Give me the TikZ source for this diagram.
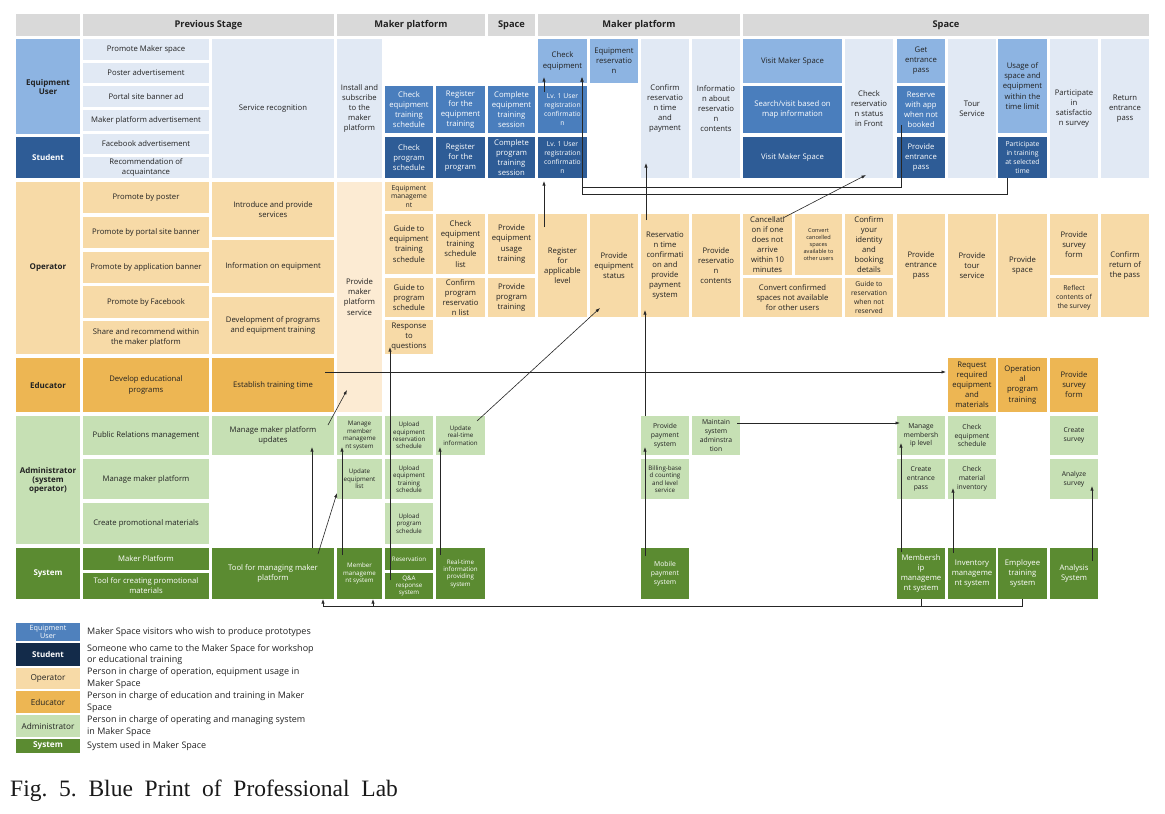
\documentclass[tikz,border=0pt]{standalone}
\usepackage{fontspec}
\setmainfont{Open Sans}
\newfontfamily\capfont{Liberation Serif}
\usetikzlibrary{arrows.meta}
\definecolor{cHD}{HTML}{D9D9D9}
\definecolor{cVLB}{HTML}{E1E9F4}
\definecolor{cLBc}{HTML}{8DB4E2}
\definecolor{cMBc}{HTML}{4A7EBD}
\definecolor{cDBc}{HTML}{2E5C96}
\definecolor{cOPc}{HTML}{F7DAA7}
\definecolor{cOPP}{HTML}{FCEBD3}
\definecolor{cEDc}{HTML}{EDB653}
\definecolor{cADc}{HTML}{C6E0B4}
\definecolor{cSYc}{HTML}{5B8B31}
\definecolor{cLgEU}{HTML}{4F81BD}
\definecolor{cLgSt}{HTML}{132B4A}
\definecolor{cTxt}{HTML}{222222}
\tikzset{
  cellbase/.style={inner sep=0pt, outer sep=0pt, align=center, text=cTxt,
    font=\fontsize{7.7}{10.1}\selectfont},
  csm/.style={font=\fontsize{6.8}{8.8}\selectfont},
  ctn/.style={font=\fontsize{6.2}{7.4}\selectfont},
  cxs/.style={font=\fontsize{5.6}{7}\selectfont},
  chd/.style={fill=cHD, font=\bfseries\fontsize{9.3}{11}\selectfont},
  crole/.style={font=\bfseries\fontsize{8}{9}\selectfont},
  cvlb/.style={fill=cVLB},
  clb/.style={fill=cLBc},
  cmb/.style={fill=cMBc, text=white},
  cdb/.style={fill=cDBc, text=white},
  cop/.style={fill=cOPc},
  copp/.style={fill=cOPP},
  ced/.style={fill=cEDc},
  cad/.style={fill=cADc},
  csy/.style={fill=cSYc, text=white},
  conn/.style={-{Latex[length=4.5pt,width=3.2pt]}, line width=0.6pt, draw=black!85},
  plainline/.style={line width=0.6pt, draw=black!85},
  lgtext/.style={anchor=west, inner sep=0pt, align=left, text=cTxt, font=\fontsize{9}{11.6}\selectfont}
}
\newcommand{\mycell}[7]{\node[cellbase,#6,minimum width={(#4-#2)*1pt},minimum height={(#5-#3)*1pt}] (#1) at ({(#2+#4)/2},{(#3+#5)/2}) {#7};}
\begin{document}
\begin{tikzpicture}[x=1pt,y=-1pt]
\useasboundingbox (0,0) rectangle (1165,814);
\fill[white] (0,0) rectangle (1165,814);
% header
\mycell{h0}{16}{14}{80}{36}{chd}{}
\mycell{h1}{83}{14}{334}{36}{chd}{Previous Stage}
\mycell{h2}{337}{14}{485}{36}{chd}{Maker platform}
\mycell{h3}{488}{14}{535}{36}{chd}{Space}
\mycell{h4}{538}{14}{740}{36}{chd}{Maker platform}
\mycell{h5}{743}{14}{1149}{36}{chd}{Space}
% role labels
\mycell{rEU}{16}{39}{80}{134}{clb,crole}{Equipment\\User}
\mycell{rSt}{16}{137}{80}{178}{cdb,crole}{Student}
\mycell{rOp}{16}{182}{80}{354}{cop,crole}{Operator}
\mycell{rEd}{16}{358}{80}{412}{ced,crole}{Educator}
\mycell{rAd}{16}{416}{80}{544}{cad,crole}{Administrator\\(system\\operator)}
\mycell{rSy}{16}{548}{80}{599}{csy,crole}{System}
% equipment user / student
\mycell{pm1}{83}{39}{209}{60}{cvlb}{Promote Maker space}
\mycell{pm2}{83}{63}{209}{83}{cvlb}{Poster advertisement}
\mycell{pm3}{83}{86}{209}{107}{cvlb}{Portal site banner ad}
\mycell{pm4}{83}{110}{209}{131}{cvlb}{Maker platform advertisement}
\mycell{pm5}{83}{134}{209}{154}{cvlb}{Facebook advertisement}
\mycell{pm6}{83}{157}{209}{178}{cvlb}{Recommendation of\\acquaintance}
\mycell{srec}{212}{39}{334}{178}{cvlb}{Service recognition}
\mycell{inst}{337}{39}{382}{178}{cvlb}{Install and\\subscribe\\to the\\maker\\platform}
\mycell{ceT}{385}{86}{433}{133}{cmb}{Check\\equipment\\training\\schedule}
\mycell{cpS}{385}{137}{433}{178}{cdb}{Check\\program\\schedule}
\mycell{reT}{436}{86}{485}{133}{cmb}{Register\\for the\\equipment\\training}
\mycell{rpP}{436}{137}{485}{178}{cdb}{Register\\for the\\program}
\mycell{coT}{488}{86}{535}{133}{cmb}{Complete\\equipment\\training\\session}
\mycell{coP}{488}{137}{535}{178}{cdb}{Complete\\program\\training\\session}
\mycell{chkEq}{538}{39}{587}{83}{clb}{Check\\equipment}
\mycell{lv1e}{538}{86}{587}{133}{cmb,csm}{Lv. 1 User\\registration\\confirmatio\\n}
\mycell{lv1s}{538}{137}{587}{178}{cdb,csm}{Lv. 1 User\\registration\\confirmatio\\n}
\mycell{eqRes}{590}{39}{638}{83}{clb}{Equipment\\reservatio\\n}
\mycell{confRes}{641}{39}{689}{178}{cvlb}{Confirm\\reservatio\\n time\\and\\payment}
\mycell{infRes}{692}{39}{740}{178}{cvlb}{Informatio\\n about\\reservatio\\n\\contents}
\mycell{visit1}{743}{39}{842}{83}{clb}{Visit Maker Space}
\mycell{search}{743}{86}{842}{133}{cmb}{Search/visit based on\\map information}
\mycell{visit2}{743}{137}{842}{178}{cdb}{Visit Maker Space}
\mycell{chkRes}{845}{39}{893}{178}{cvlb}{Check\\reservatio\\n status\\in Front}
\mycell{getP}{897}{39}{945}{83}{clb}{Get\\entrance\\pass}
\mycell{resApp}{897}{86}{945}{133}{cmb}{Reserve\\with app\\when not\\booked}
\mycell{provP}{897}{137}{945}{178}{cdb}{Provide\\entrance\\pass}
\mycell{tour}{948}{39}{996}{178}{cvlb}{Tour\\Service}
\mycell{usage}{998}{39}{1047}{133}{clb}{Usage of\\space and\\equipment\\within the\\time limit}
\mycell{ptrain}{998}{137}{1047}{178}{cdb,csm}{Participate\\in training\\at selected\\time}
\mycell{sat}{1050}{39}{1098}{178}{cvlb}{Participate\\in\\satisfactio\\n survey}
\mycell{ret}{1101}{39}{1149}{178}{cvlb}{Return\\entrance\\pass}
% operator
\mycell{op1}{83}{182}{209}{213}{cop}{Promote by poster}
\mycell{op2}{83}{217}{209}{248}{cop}{Promote by portal site banner}
\mycell{op3}{83}{252}{209}{283}{cop}{Promote by application banner}
\mycell{op4}{83}{286}{209}{318}{cop}{Promote by Facebook}
\mycell{op5}{83}{321}{209}{354}{cop}{Share and recommend within\\the maker platform}
\mycell{intro}{212}{182}{334}{237}{cop}{Introduce and provide\\services}
\mycell{infoEq}{212}{240}{334}{293}{cop}{Information on equipment}
\mycell{devP}{212}{297}{334}{354}{cop}{Development of programs\\and equipment training}
\mycell{provMP}{337}{182}{382}{412}{copp}{Provide\\maker\\platform\\service}
\mycell{eqMg}{385}{182}{433}{211}{cop,csm}{Equipment\\manageme\\nt}
\mycell{gEqT}{385}{214}{433}{274}{cop}{Guide to\\equipment\\training\\schedule}
\mycell{gPS}{385}{278}{433}{317}{cop}{Guide to\\program\\schedule}
\mycell{resp}{385}{320}{433}{354}{cop}{Response\\to\\questions}
\mycell{ceTl}{436}{214}{485}{274}{cop}{Check\\equipment\\training\\schedule\\list}
\mycell{cPRl}{436}{278}{485}{317}{cop}{Confirm\\program\\reservatio\\n list}
\mycell{pEUT}{488}{214}{535}{274}{cop}{Provide\\equipment\\usage\\training}
\mycell{pPT}{488}{278}{535}{317}{cop}{Provide\\program\\training}
\mycell{regApp}{538}{214}{587}{317}{cop}{Register\\for\\applicable\\level}
\mycell{provEqS}{590}{214}{638}{317}{cop}{Provide\\equipment\\status}
\mycell{resConf}{641}{214}{689}{317}{cop}{Reservatio\\n time\\confirmati\\on and\\provide\\payment\\system}
\mycell{provRC}{692}{214}{740}{317}{cop}{Provide\\reservatio\\n\\contents}
\mycell{cancel}{743}{214}{792}{275}{cop}{Cancellati\\on if one\\does not\\arrive\\within 10\\minutes}
\mycell{convC}{795}{214}{842}{275}{cop,cxs}{Convert\\cancelled\\spaces\\available to\\other users}
\mycell{convF}{743}{278}{842}{317}{cop}{Convert confirmed\\spaces not available\\for other users}
\mycell{confId}{845}{214}{893}{275}{cop}{Confirm\\your\\identity\\and\\booking\\details}
\mycell{guideR}{845}{278}{893}{317}{cop,csm}{Guide to\\reservation\\when not\\reserved}
\mycell{provEP}{897}{214}{945}{317}{cop}{Provide\\entrance\\pass}
\mycell{provTS}{948}{214}{996}{317}{cop}{Provide\\tour\\service}
\mycell{provSp}{998}{214}{1047}{317}{cop}{Provide\\space}
\mycell{provSF}{1050}{214}{1098}{275}{cop}{Provide\\survey\\form}
\mycell{reflect}{1050}{278}{1098}{317}{cop,csm}{Reflect\\contents of\\the survey}
\mycell{confRet}{1101}{214}{1149}{317}{cop}{Confirm\\return of\\the pass}
% educator
\mycell{devEd}{83}{358}{209}{412}{ced}{Develop educational\\programs}
\mycell{estab}{212}{358}{334}{412}{ced}{Establish training time}
\mycell{reqEq}{948}{358}{996}{412}{ced}{Request\\required\\equipment\\and\\materials}
\mycell{opTr}{998}{358}{1047}{412}{ced}{Operation\\al\\program\\training}
\mycell{provSF2}{1050}{358}{1098}{412}{ced}{Provide\\survey\\form}
% administrator
\mycell{prm}{83}{416}{209}{455}{cad}{Public Relations management}
\mycell{mmp}{83}{459}{209}{499}{cad}{Manage maker platform}
\mycell{cpm}{83}{503}{209}{544}{cad}{Create promotional materials}
\mycell{mmpu}{212}{416}{334}{455}{cad}{Manage maker platform\\updates}
\mycell{mmm}{337}{416}{382}{455}{cad,ctn}{Manage\\member\\manageme\\nt system}
\mycell{updEq}{337}{459}{382}{499}{cad,ctn}{Update\\equipment\\list}
\mycell{upER}{385}{416}{433}{455}{cad,ctn}{Upload\\equipment\\reservation\\schedule}
\mycell{upET}{385}{459}{433}{499}{cad,ctn}{Upload\\equipment\\training\\schedule}
\mycell{upPS}{385}{503}{433}{544}{cad,ctn}{Upload\\program\\schedule}
\mycell{updRT}{436}{416}{485}{455}{cad,ctn}{Update\\real-time\\information}
\mycell{provPay}{641}{416}{689}{455}{cad,csm}{Provide\\payment\\system}
\mycell{bill}{641}{459}{689}{499}{cad,ctn}{Billing-base\\d counting\\and level\\service}
\mycell{maint}{692}{416}{740}{455}{cad,csm}{Maintain\\system\\adminstra\\tion}
\mycell{mml}{897}{416}{945}{455}{cad,csm}{Manage\\membersh\\ip level}
\mycell{cep}{897}{459}{945}{499}{cad,csm}{Create\\entrance\\pass}
\mycell{ceS}{948}{416}{996}{455}{cad,csm}{Check\\equipment\\schedule}
\mycell{chkMat}{948}{459}{996}{499}{cad,csm}{Check\\material\\inventory}
\mycell{crS}{1050}{416}{1098}{455}{cad,csm}{Create\\survey}
\mycell{anaSv}{1050}{459}{1098}{499}{cad,csm}{Analyze\\survey}
% system
\mycell{mkp}{83}{548}{209}{570}{csy}{Maker Platform}
\mycell{tcp}{83}{573}{209}{599}{csy}{Tool for creating promotional\\materials}
\mycell{toolMg}{212}{548}{334}{599}{csy}{Tool for managing maker\\platform}
\mycell{memSys}{337}{548}{382}{599}{csy,ctn}{Member\\manageme\\nt system}
\mycell{resv}{385}{548}{433}{570}{csy,ctn}{Reservation}
\mycell{qa}{385}{573}{433}{599}{csy,ctn}{Q\&A\\response\\system}
\mycell{rtSys}{436}{548}{485}{599}{csy,ctn}{Real-time\\information\\providing\\system}
\mycell{mobPay}{641}{548}{689}{599}{csy,csm}{Mobile\\payment\\system}
\mycell{memb}{897}{548}{945}{599}{csy}{Membersh\\ip\\manageme\\nt system}
\mycell{inv}{948}{548}{996}{599}{csy}{Inventory\\manageme\\nt system}
\mycell{emp}{998}{548}{1047}{599}{csy}{Employee\\training\\system}
\mycell{anaSys}{1050}{548}{1098}{599}{csy}{Analysis\\System}
% connectors
\draw[conn] ([xshift=-18.5pt,yshift=-13pt]regApp.north) -- ([xshift=-18.5pt,yshift=-3pt]lv1s.south);
\draw[conn] ([xshift=-18.5pt,yshift=-6pt]lv1e.north) -- ([xshift=-18.5pt,yshift=6pt]chkEq.south);
\draw[conn] ([xshift=-20pt,yshift=8pt]resApp.south) |- (582,187) -- ([xshift=19.5pt,yshift=6pt]chkEq.south);
\draw[conn] ([xshift=-15.5pt]ptrain.south) |- (582,194) -- ([xshift=19.5pt,yshift=6pt]chkEq.south);
\draw[conn] ([xshift=-19pt,yshift=-6pt]resConf.north) -- ([xshift=-19pt,yshift=15pt]confRes.south);
\draw[conn] ([xshift=-20pt]provPay.north) -- ([xshift=-20pt,yshift=7pt]resConf.south);
\draw[conn] ([xshift=-20pt,yshift=-8pt]mobPay.north) -- ([xshift=-20pt,yshift=8pt]provPay.south);
\draw[conn] ([xshift=15.5pt,yshift=-4pt]cancel.north) -- ([xshift=-3pt,yshift=3pt]chkRes.south);
\draw[conn] ([xshift=16.5pt,yshift=-5pt]updRT.north) -- ([xshift=-14pt,yshift=9pt]provEqS.south);
\draw[conn] ([xshift=-9pt,yshift=13pt]estab.east) -- ([xshift=-2pt,yshift=13pt]reqEq.west);
\draw[conn] ([xshift=-6pt,yshift=10.5pt]mmpu.east) -- ([xshift=-12.5pt,yshift=22pt]provMP.south);
\draw[conn] ([xshift=39pt]toolMg.north) -- ([xshift=39pt,yshift=8pt]mmpu.south);
\draw[conn] ([xshift=45pt,yshift=-6pt]toolMg.north) -- ([yshift=6pt]updEq.south west);
\draw[conn] ([xshift=-17.5pt,yshift=-7pt]memSys.north) -- ([xshift=-17.5pt,yshift=8pt]mmm.south);
\draw[conn] ([xshift=-19pt,yshift=-7pt]qa.north) -- ([xshift=-19pt,yshift=7pt]resp.south);
\draw[conn] ([xshift=-20.5pt,yshift=-7pt]rtSys.north) -- ([xshift=-20.5pt,yshift=8pt]updRT.south);
\draw[conn] ([xshift=-3pt,yshift=12.5pt]maint.east) -- ([xshift=3pt,yshift=12.5pt]mml.west);
\draw[conn] ([xshift=-20pt,yshift=-4pt]memb.north) -- ([xshift=-20pt,yshift=12pt]mml.south);
\draw[conn] ([xshift=-19pt,yshift=-5pt]inv.north) -- ([xshift=-19pt,yshift=11pt]chkMat.south);
\draw[conn] ([xshift=18pt,yshift=-13pt]anaSys.north) -- ([xshift=18pt,yshift=13pt]anaSv.south);
\draw[conn] (memb.south) -- ++(0,7) -| ([xshift=50pt]toolMg.south);
\draw[plainline] (emp.south) -- ++(0,7) -| (memb.south);
\draw[conn] ([xshift=13.5pt,yshift=-7pt]memSys.south) -- ([xshift=13.5pt]memSys.south);
% legend
\mycell{lgEU}{16}{623}{80}{641}{fill=cLgEU,text=white,font=\fontsize{7.2}{7.4}\selectfont}{Equipment\\User}
\mycell{lgSt}{16}{643}{80}{666}{fill=cLgSt,text=white,font=\bfseries\fontsize{8}{9}\selectfont}{Student}
\mycell{lgOp}{16}{668}{80}{689}{cop,font=\fontsize{8.2}{9}\selectfont}{Operator}
\mycell{lgEd}{16}{691}{80}{713}{ced,font=\fontsize{8.2}{9}\selectfont}{Educator}
\mycell{lgAd}{16}{715}{80}{737}{cad,font=\fontsize{8.2}{9}\selectfont}{Administrator}
\mycell{lgSy}{16}{739}{80}{753}{csy,font=\bfseries\fontsize{8.2}{9}\selectfont}{System}
\node[lgtext] (lt1) at (87,632) {Maker Space visitors who wish to produce prototypes};
\node[lgtext] (lt2) at (87,654.5) {Someone who came to the Maker Space for workshop\\or educational training};
\node[lgtext] (lt3) at (87,678) {Person in charge of operation, equipment usage in\\Maker Space};
\node[lgtext] (lt4) at (87,702) {Person in charge of education and training in Maker\\Space};
\node[lgtext] (lt5) at (87,726) {Person in charge of operating and managing system\\in Maker Space};
\node[lgtext] (lt6) at (87,746) {System used in Maker Space};
% caption
\node[anchor=west, inner sep=0pt, text=black!90, font=\capfont\fontsize{23.5}{28}\selectfont] (cap) at (10,791) {Fig.\ \ 5.\ \ Blue\ \ Print\ \ of\ \ Professional\ \ Lab};
\end{tikzpicture}
\end{document}
